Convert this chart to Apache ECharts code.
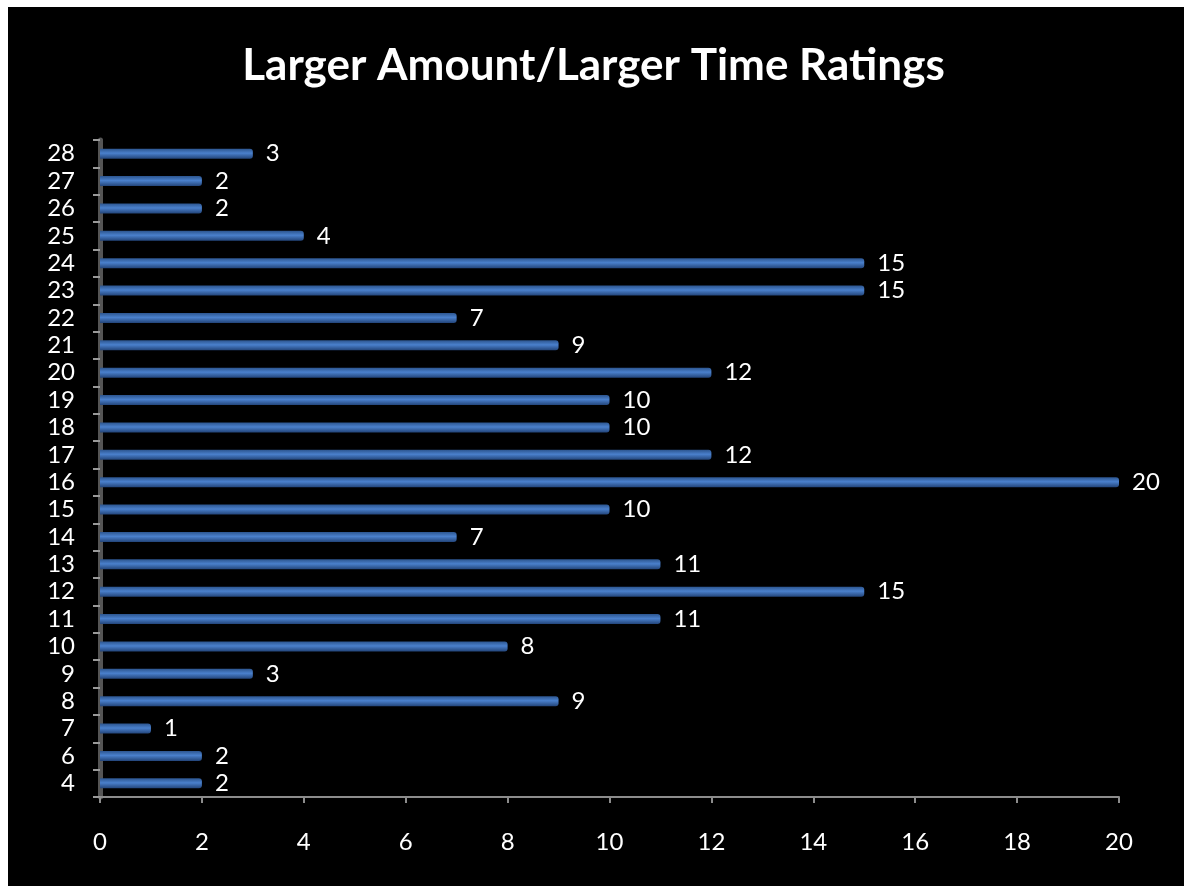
<!DOCTYPE html>
<html>
<head>
<meta charset="utf-8">
<script src="https://cdn.jsdelivr.net/npm/echarts@6/dist/echarts.min.js"></script>
<style>
html,body{margin:0;padding:0;background:#fff;}
#chart{width:1187px;height:890px;}
</style>
</head>
<body>
<div id="chart"></div>
<script>
const categories = ['4','6','7','8','9','10','11','12','13','14','15','16','17','18','19','20','21','22','23','24','25','26','27','28'];
const values = [2,2,1,9,3,8,11,15,11,7,10,20,12,10,10,12,9,7,15,15,4,2,2,3];
const xTicks = [0,2,4,6,8,10,12,14,16,18,20];
const titleText = 'Larger Amount/Larger Time Ratings';

const FONT = 'Lato, "Open Sans", sans-serif';
const chart = echarts.init(document.getElementById('chart'));
chart.setOption({
  backgroundColor: '#ffffff',
  animation: false,
  graphic: [{
    type: 'rect', z: -10, silent: true,
    shape: {x: 8, y: 7, width: 1176, height: 879},
    style: {fill: '#000000'}
  }],
  title: {
    text: titleText,
    left: 'center',
    top: 39,
    textStyle: {color: '#ffffff', fontSize: 44, fontWeight: 'bold', fontFamily: FONT}
  },
  grid: {left: 100, right: 68, top: 140, bottom: 93, containLabel: false},
  xAxis: {
    type: 'value', min: xTicks[0], max: xTicks[xTicks.length-1], interval: 2,
    splitLine: {show: false},
    axisLine: {show: true, lineStyle: {color: '#8c8c8c', width: 2}},
    axisTick: {show: true, length: 6, lineStyle: {color: '#8c8c8c', width: 2}},
    axisLabel: {color: '#ffffff', fontSize: 24, fontFamily: FONT, margin: 33}
  },
  yAxis: {
    type: 'category', data: categories,
    axisLine: {show: true, lineStyle: {color: '#555555', width: 5}},
    axisTick: {show: true, interval: 0, length: 7, lineStyle: {color: '#9a9a9a', width: 2}},
    axisLabel: {interval: 0, color: '#ffffff', fontSize: 24, fontFamily: FONT, margin: 25}
  },
  series: [{
    type: 'bar',
    data: values,
    barWidth: 10,
    itemStyle: {
      color: new echarts.graphic.LinearGradient(0,0,0,1,[
        {offset:0, color:'#2c558f'},
        {offset:0.45, color:'#4a80cc'},
        {offset:1, color:'#23457a'}
      ]),
      borderRadius: [0,3,3,0]
    },
    label: {show: true, position: 'right', distance: 13, color: '#ffffff', fontSize: 24, fontFamily: FONT}
  }]
});
</script>
</body>
</html>
